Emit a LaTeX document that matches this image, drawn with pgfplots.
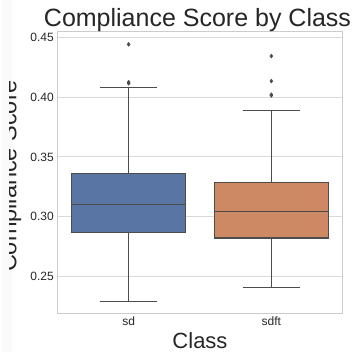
\documentclass[border=0pt]{standalone}
\usepackage{pgfplots}
\pgfplotsset{compat=1.18}
\usepgfplotslibrary{statistics}
\usepackage{fontspec}
\setmainfont{Liberation Sans}
\definecolor{boxblue}{RGB}{88,117,164}
\definecolor{boxorange}{RGB}{204,137,99}
\definecolor{edge}{RGB}{76,76,76}
\definecolor{gridc}{RGB}{218,218,218}
\definecolor{framec}{RGB}{204,204,204}
\definecolor{txt}{RGB}{38,38,38}
\begin{document}
\begin{tikzpicture}
\fill[gray!5] (-55.3pt,-38.7pt) rectangle (-45.3pt,313.3pt);
\begin{axis}[
  at={(0pt,0pt)}, anchor=south west,
  scale only axis, width=285.4pt, height=281.6pt,
  xmin=-0.5, xmax=1.5, ymin=0.2192, ymax=0.4547,
  xtick={0,1}, xticklabels={sd,sdft},
  ytick={0.25,0.3,0.35,0.4,0.45},
  yticklabel style={/pgf/number format/.cd, fixed, fixed zerofill, precision=2},
  /pgf/number format/assume math mode=true,
  tick label style={font=\fontsize{12}{14}\selectfont, text=txt},
  ymajorgrids, major grid style={gridc, line width=0.9pt},
  axis line style={framec, line width=1pt},
  major tick length=0pt,
  boxplot/draw direction=y,
]
\addplot+[boxplot prepared={draw position=0, box extend=0.8, whisker extend=0.4, lower whisker=0.2292, lower quartile=0.2867, median=0.3099, upper quartile=0.3358, upper whisker=0.4084},
  solid, fill=boxblue, draw=edge, line width=1.1pt, mark=diamond*, mark size=2pt, mark options={fill=edge, draw=edge, line width=0.4pt}]
  table[row sep=\\, y index=0] {data\\ 0.4441\\ 0.4125\\ 0.4115\\};
\addplot+[boxplot prepared={draw position=1, box extend=0.8, whisker extend=0.4, lower whisker=0.2406, lower quartile=0.2822, median=0.3043, upper quartile=0.3286, upper whisker=0.3889},
  solid, fill=boxorange, draw=edge, line width=1.1pt, mark=diamond*, mark size=2pt, mark options={fill=edge, draw=edge, line width=0.4pt}]
  table[row sep=\\, y index=0] {data\\ 0.4343\\ 0.4134\\ 0.4020\\ 0.4014\\};
\end{axis}
\node[anchor=base, font=\fontsize{25}{30}\selectfont, text=txt] at (140.2pt,286.3pt) {Compliance Score by Class};
\node[anchor=base, font=\fontsize{22}{26}\selectfont, text=txt] at (142.7pt,-35pt) {Class};
\begin{scope}
\clip (-47.3pt,-38.7pt) rectangle (0pt,313.3pt);
\node[rotate=90, anchor=base, font=\fontsize{23.5}{28}\selectfont, text=txt] at (-40.8pt,137.3pt) {Compliance Score};
\end{scope}
\pgfresetboundingbox
\useasboundingbox (-57.3pt,-38.7pt) rectangle (302.7pt,313.3pt);
\end{tikzpicture}
\end{document}
